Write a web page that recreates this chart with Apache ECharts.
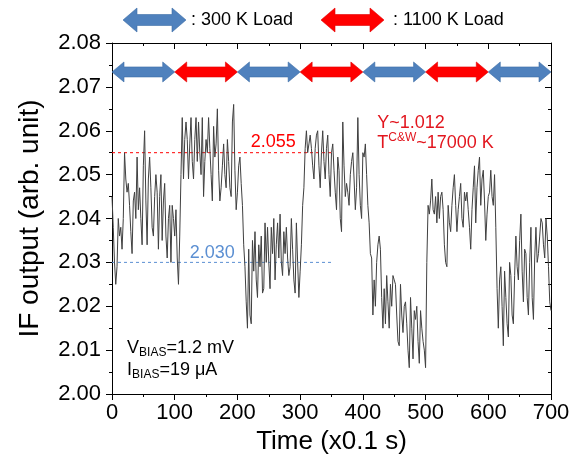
<!DOCTYPE html>
<html><head><meta charset="utf-8">
<script src="https://cdn.jsdelivr.net/npm/echarts@6/dist/echarts.min.js"></script>
<style>html,body{margin:0;padding:0;background:#fff}#c{width:583px;height:463px}</style>
</head><body><div id="c"></div>
<script>
// ---- Data ----
const timeStep = 2; // sampling step in x0.1 s units
const seg300a = [2.045,2.038,2.030,2.025,2.029,2.040,2.036,2.038,2.033,2.040,
 2.055,2.049,2.046,2.048,2.043,2.037,2.032,2.044,2.046,2.040,
 2.054,2.042,2.047,2.040,2.034,2.052,2.060,2.044,2.034,2.049,
 2.054,2.047,2.038,2.036,2.045,2.050,2.046,2.033,2.045,2.050,
 2.035,2.044,2.048,2.036,2.031,2.040,2.043,2.030,2.043,2.040,
 2.036,2.042,2.031,2.025,2.036];
const seg1100a = [2.050,2.063,2.049,2.058,2.062,2.058,2.049,2.057,2.063,2.053,
 2.049,2.058,2.063,2.053,2.062,2.055,2.050,2.063,2.045,2.053,
 2.058,2.055,2.063,2.056,2.050,2.044,2.061,2.054,2.057,2.065,
 2.051,2.044,2.047,2.052,2.057,2.050,2.047,2.058,2.053,2.047,
 2.045,2.062,2.066,2.051,2.042,2.046,2.052,2.054,2.048,2.043];
const seg300b = [2.034,2.029,2.021,2.015,2.033,2.018,2.016,2.035,2.028,2.037,
 2.026,2.022,2.034,2.029,2.036,2.023,2.024,2.039,2.030,2.038,
 2.030,2.024,2.038,2.032,2.040,2.026,2.034,2.039,2.031,2.041,
 2.030,2.027,2.037,2.032,2.038,2.031,2.027,2.029,2.040,2.033,
 2.026,2.023,2.039,2.030,2.022,2.028,2.034,2.043,2.047,2.056];
const seg1100b = [2.060,2.055,2.057,2.059,2.056,2.052,2.049,2.056,2.059,2.060,
 2.052,2.047,2.055,2.060,2.053,2.049,2.056,2.059,2.050,2.045,
 2.055,2.057,2.051,2.046,2.042,2.054,2.051,2.040,2.037,2.062,
 2.052,2.045,2.048,2.046,2.043,2.050,2.053,2.055,2.049,2.042,
 2.047,2.063,2.050,2.043,2.040,2.055,2.054,2.057,2.050,2.043,
 2.039,2.032];
const seg300c = [2.031,2.018,2.026,2.020,2.030,2.034,2.036,2.033,2.022,2.015,
 2.024,2.016,2.027,2.021,2.015,2.025,2.020,2.027,2.026,2.025,
 2.018,2.012,2.011,2.025,2.018,2.014,2.020,2.021,2.016,2.010,
 2.006,2.022,2.015,2.008,2.019,2.017,2.020,2.012,2.007,2.019,
 2.015,2.012,2.010,2.006,2.030];
const seg1100c = [2.043,2.041,2.044,2.049,2.042,2.041,2.045,2.039,2.046,2.040,
 2.045,2.046,2.042,2.034,2.030,2.029,2.043,2.039,2.037,2.043,
 2.047,2.050,2.043,2.037,2.042,2.045,2.048,2.040,2.038,2.046,
 2.044,2.046,2.042,2.038,2.033,2.042,2.047,2.052,2.039,2.047,
 2.051,2.054,2.043,2.049,2.051,2.044,2.035,2.041,2.045,2.046,
 2.051,2.045,2.043,2.050];
const seg300d = [2.038,2.024,2.015,2.026,2.029,2.020,2.011,2.028,2.022,2.016,
 2.013,2.030,2.027,2.018,2.016,2.027,2.036,2.029,2.026,2.035,
 2.041,2.028,2.021,2.033,2.032,2.022,2.018,2.030,2.038,2.022,
 2.017,2.031,2.038,2.030,2.032,2.036,2.040,2.039,2.034,2.031,
 2.040,2.036,2.029,2.021,2.019];

const loadStarts = [0,100,200,300,400,500,600];
const loadEnds   = [100,200,300,400,500,600,700];
const loadKinds  = ['300','1100','300','1100','300','1100','300'];
const arrowLevel = 2.0734;

const refLevels = [2.055, 2.030];
const refEnd = 350;

const xTicks = {min:0, max:700, interval:100};
const yTicks = {min:2.00, max:2.08, interval:0.01};

// ---- Build ----
const ifOut = [].concat(seg300a, seg1100a, seg300b, seg1100b, seg300c, seg1100c, seg300d);
const lineData = ifOut.map((v,i)=>[i*timeStep, v]);
const BLUE = '#4F81BD', RED = '#FF0000';
const FONT = 'Liberation Sans, Arial, sans-serif';

function arrowPts(x0, x1, cy, H, h, L){
  return [[x0,cy],[x0+L,cy-H],[x0+L,cy-h],[x1-L,cy-h],[x1-L,cy-H],[x1,cy],[x1-L,cy+H],[x1-L,cy+h],[x0+L,cy+h],[x0+L,cy+H]];
}

const chart = echarts.init(document.getElementById('c'), null, {renderer:'canvas'});
const texts = [
  {x:257, y:2.0574, text:'2.055', color:RED, align:'center'},
  {x:160, y:2.0321, text:'2.030', color:'#5B8FD2', align:'center'},
  {x:423, y:2.0618, text:'Y~1.012', color:'#E2161E', align:'left'},
  {x:423, y:2.0572, text:'T{sup|C&W}~17000 K', color:'#E2161E', align:'left'},
  {x:24, y:2.0105, text:'V{sub|BIAS}=1.2 mV', color:'#000', align:'left'},
  {x:24, y:2.0055, text:'I{sub|BIAS}=19 \u03bcA', color:'#000', align:'left'}
];

chart.setOption({
  animation:false,
  backgroundColor:'#fff',
  grid:{left:112, right:32, top:43, bottom:69},
  xAxis:[{
    type:'value', min:xTicks.min, max:xTicks.max, interval:xTicks.interval,
    name:'Time (x0.1 s)', nameLocation:'middle', nameGap:34,
    nameTextStyle:{fontSize:26, color:'#000', fontFamily:FONT},
    axisLine:{show:true, onZero:false, lineStyle:{color:'#000', width:1}},
    axisTick:{show:true, inside:false, length:6, lineStyle:{color:'#000'}},
    minorTick:{show:true, splitNumber:2, length:3, lineStyle:{color:'#000'}},
    axisLabel:{fontSize:22, color:'#000', fontFamily:FONT, margin:8},
    splitLine:{show:false}
  },{
    type:'value', position:'top', min:xTicks.min, max:xTicks.max, interval:xTicks.interval,
    axisLine:{show:true, onZero:false, lineStyle:{color:'#000', width:1}},
    axisTick:{show:true, inside:true, length:6, lineStyle:{color:'#000'}},
    minorTick:{show:true, splitNumber:2, length:3, lineStyle:{color:'#000'}},
    axisLabel:{show:false}, splitLine:{show:false}
  }],
  yAxis:[{
    type:'value', min:yTicks.min, max:yTicks.max, interval:yTicks.interval,
    name:'IF output (arb. unit)', nameLocation:'middle', nameGap:68,
    nameTextStyle:{fontSize:28, color:'#000', fontFamily:FONT},
    axisLine:{show:true, onZero:false, lineStyle:{color:'#000', width:1}},
    axisTick:{show:true, inside:false, length:6, lineStyle:{color:'#000'}},
    minorTick:{show:true, splitNumber:2, length:3, lineStyle:{color:'#000'}},
    axisLabel:{fontSize:22, color:'#000', fontFamily:FONT, margin:11, formatter:v=>v.toFixed(2)},
    splitLine:{show:false}
  },{
    type:'value', position:'right', min:yTicks.min, max:yTicks.max, interval:yTicks.interval,
    axisLine:{show:true, onZero:false, lineStyle:{color:'#000', width:1}},
    axisTick:{show:true, inside:true, length:6, lineStyle:{color:'#000'}},
    minorTick:{show:true, splitNumber:2, length:3, lineStyle:{color:'#000'}},
    axisLabel:{show:false}, splitLine:{show:false}
  }],
  graphic:[
    {type:'polygon', shape:{points:arrowPts(123,186,20,12,5.5,14)}, style:{fill:BLUE, stroke:'#3d6da6', lineWidth:0.6}},
    {type:'text', x:191, y:20, style:{text:': 300 K Load', font:'18px '+FONT, fill:'#000', textVerticalAlign:'middle'}},
    {type:'polygon', shape:{points:arrowPts(321,384,20,12,5.5,14)}, style:{fill:RED, stroke:'#e00000', lineWidth:0.6}},
    {type:'text', x:393, y:20, style:{text:': 1100 K Load', font:'18px '+FONT, fill:'#000', textVerticalAlign:'middle'}}
  ],
  series:[
    {type:'line', data:[[0,refLevels[0]],[refEnd,refLevels[0]]], showSymbol:false, symbol:'none',
     lineStyle:{color:RED, width:1, type:[3,3]}, z:1},
    {type:'line', data:[[0,refLevels[1]],[refEnd,refLevels[1]]], showSymbol:false, symbol:'none',
     lineStyle:{color:'#5B8FD2', width:1, type:[3,3]}, z:1},
    {type:'line', data:lineData, showSymbol:false, symbol:'none',
     lineStyle:{color:'#404040', width:1}, z:2},
    {type:'custom', z:3,
     data:loadStarts.map((s,i)=>[s, loadEnds[i], arrowLevel, loadKinds[i]==='300'?0:1]),
     renderItem:function(params, api){
       const p0 = api.coord([api.value(0), api.value(2)]);
       const p1 = api.coord([api.value(1), api.value(2)]);
       const isRed = api.value(3)===1;
       return {type:'polygon', shape:{points:arrowPts(p0[0], p1[0], p0[1], 10, 5, 12)},
         style:{fill:isRed?RED:BLUE, stroke:isRed?'#e00000':'#3d6da6', lineWidth:0.6}};
     }},
    {type:'custom', z:4,
     data:texts.map((t,i)=>[t.x, t.y, i]),
     renderItem:function(params, api){
       const t = texts[api.value(2)];
       const p = api.coord([api.value(0), api.value(1)]);
       return {type:'text', x:p[0], y:p[1], style:{
         text:t.text, fill:t.color, align:t.align, verticalAlign:'middle',
         font:'18px '+FONT, lineHeight:22,
         rich:{
           sub:{fontSize:12, fontFamily:FONT, fill:t.color, verticalAlign:'bottom', lineHeight:22},
           sup:{fontSize:12, fontFamily:FONT, fill:t.color, verticalAlign:'top', lineHeight:22}
         }}};
     }}
  ]
});
</script></body></html>
